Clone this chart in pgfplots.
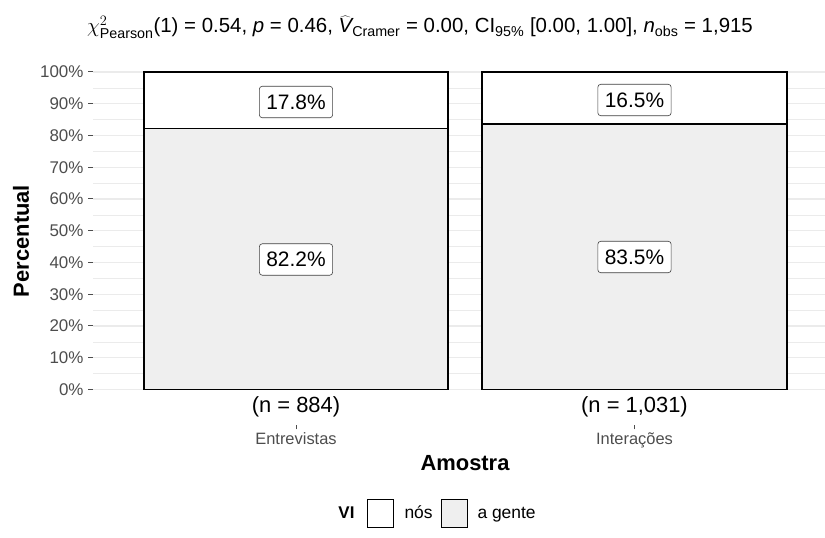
\documentclass[border=0pt]{standalone}
\usepackage{fontspec}
\setmainfont{Liberation Sans}
\usepackage{pgfplots}
\pgfplotsset{compat=1.18}
\definecolor{gridc}{HTML}{EBEBEB}
\definecolor{agente}{HTML}{EFEFEF}
\definecolor{ticktext}{HTML}{4D4D4D}
\newcommand{\fs}[1]{\fontsize{#1}{#1}\selectfont}
\begin{document}
\begin{tikzpicture}[x=1bp,y=1bp]
\useasboundingbox (0,0) rectangle (825,538);
\begin{axis}[
  at={(93bp,148.5bp)}, anchor=south west,
  scale only axis, width=732bp, height=317.5bp,
  xmin=0.4, xmax=2.5628, ymin=0, ymax=100,
  ybar stacked, bar width=0.9,
  axis line style={draw=none},
  xtick=\empty,
  ytick={0,10,...,100},
  minor ytick={5,15,...,95},
  yticklabel={\pgfmathprintnumber{\tick}\%},
  ymajorgrids, yminorgrids,
  major grid style={gridc, line width=1.1bp},
  minor grid style={gridc, line width=0.55bp},
  ytick pos=left, tick align=outside,
  major tick length=5bp, minor tick length=0bp,
  tick style={ticktext, line width=1bp},
  yticklabel style={font=\fs{17}, text=ticktext, xshift=-1bp},
  /pgf/number format/assume math mode=true,
  clip=false,
]
\addplot[fill=agente, draw=black, line width=1.8bp] coordinates {(1,82.2) (2,83.5)};
\addplot[fill=white, draw=black, line width=1.8bp] coordinates {(1,17.8) (2,16.5)};
\end{axis}
% value labels (annotations)
\begin{scope}[lab/.style={draw=black!75, line width=0.6bp, rounded corners=3bp, fill=white, font=\fs{21}, text height=15bp, text depth=0.5bp, inner xsep=7bp, inner ysep=8bp}]
\node[lab] at (296,436) {17.8\%};
\node[lab] at (296,278.5) {82.2\%};
\node[lab] at (634.5,438) {16.5\%};
\node[lab] at (634.5,281) {83.5\%};
\end{scope}
% n labels, ticks, category labels
\node[font=\fs{22}, anchor=base] at (296,125) {(n = 884)};
\node[font=\fs{22}, anchor=base] at (634.5,125) {(n = 1,031)};
\draw[ticktext, line width=1bp] (296,108.7) -- (296,112.5);
\draw[ticktext, line width=1bp] (634.5,108.7) -- (634.5,112.5);
\node[font=\fs{16.5}, text=ticktext, anchor=base] at (296,93) {Entrevistas};
\node[font=\fs{16.5}, text=ticktext, anchor=base] at (634.5,93) {Interações};
% axis titles
\node[font=\fs{22}\bfseries, anchor=base] at (465,67) {Amostra};
\node[font=\fs{22}\bfseries, rotate=90] at (21,297) {Percentual};
% title
\node[font=\fs{20.5}, anchor=base] at (420,505) {$\chi^2_{\mathrm{Pearson}}$(1) = 0.54, \textit{p} = 0.46, $\widehat{\mathit{V}}_{\mathrm{Cramer}}$ = 0.00, CI$_{\mathrm{95\%}}$ [0.00, 1.00], \textit{n}$_{\mathrm{obs}}$ = 1,915};
% legend
\node[font=\fs{17}\bfseries, anchor=base east] at (358,19) {VI};
\draw[black, line width=1bp, fill=white] (367,10) rectangle (393,38);
\node[font=\fs{17.5}, anchor=base west] at (401,19) {nós};
\draw[black, line width=1bp, fill=agente] (441,10) rectangle (467,38);
\node[font=\fs{17.5}, anchor=base west] at (474,19) {a gente};
\end{tikzpicture}
\end{document}
